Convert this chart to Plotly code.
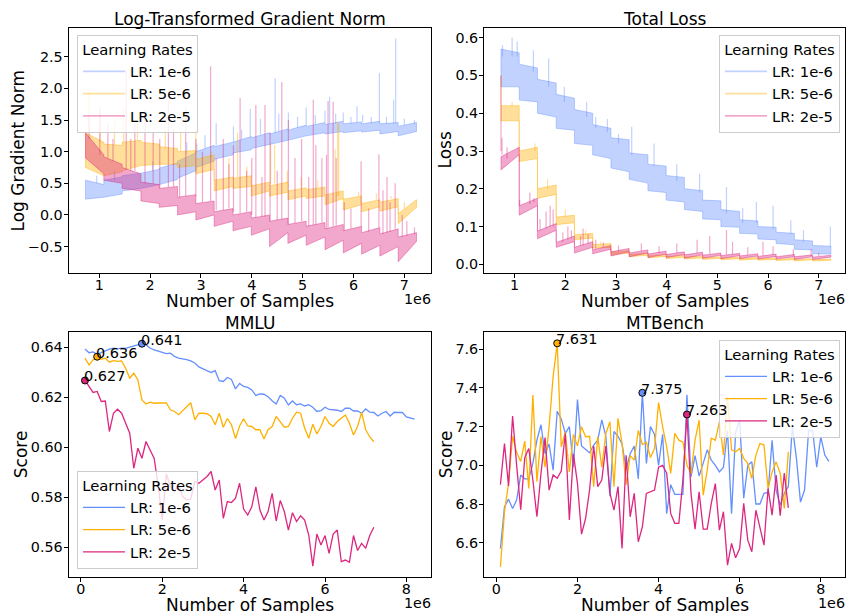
import plotly.graph_objects as go

W, H = 849, 613
FONT = "DejaVu Sans"
BLUE, ORANGE, PINK = "#648FFF", "#FFB000", "#DC267F"
BLUE_L, ORANGE_L, PINK_L = "rgba(100,143,255,0.4)", "rgba(255,176,0,0.4)", "rgba(220,38,127,0.4)"
LR_NAMES = ["LR: 1e-6", "LR: 5e-6", "LR: 2e-5"]

# ---------------- training curves (x in units of 1e6 samples) ----------------
epoch_edges = [0.73, 1.09, 1.45, 1.82, 2.18, 2.54, 2.9, 3.26, 3.63, 3.99,
               4.35, 4.71, 5.07, 5.44, 5.8, 6.16, 6.52, 6.88, 7.24]

# per epoch: [low at start, low at end, high at start, high at end]
gradnorm_1e6 = [[0.25, 0.28, 0.55, 0.48], [0.28, 0.33, 0.55, 0.6], [0.38, 0.42, 0.62, 0.66],
                [0.42, 0.48, 0.66, 0.72], [0.48, 0.56, 0.74, 0.82], [0.58, 0.7, 0.85, 0.98],
                [0.75, 0.85, 1.0, 1.1], [0.88, 0.95, 1.08, 1.15], [0.98, 1.03, 1.15, 1.24],
                [1.05, 1.12, 1.22, 1.3], [1.12, 1.18, 1.28, 1.36], [1.18, 1.25, 1.34, 1.42],
                [1.25, 1.3, 1.4, 1.46], [1.28, 1.32, 1.43, 1.48], [1.3, 1.33, 1.44, 1.47],
                [1.31, 1.34, 1.44, 1.48], [1.28, 1.32, 1.44, 1.46], [1.25, 1.32, 1.4, 1.46]]
gradnorm_5e6 = [[0.75, 0.62, 1.3, 1.15], [0.62, 0.68, 1.12, 1.1], [0.7, 0.78, 1.15, 1.18],
                [0.78, 0.8, 1.15, 1.12], [0.8, 0.8, 1.08, 1.05], [0.75, 0.78, 1.0, 1.02],
                [0.65, 0.72, 0.88, 0.95], [0.38, 0.45, 0.55, 0.6], [0.42, 0.45, 0.58, 0.62],
                [0.3, 0.38, 0.46, 0.52], [0.3, 0.36, 0.46, 0.52], [0.24, 0.3, 0.38, 0.43],
                [0.26, 0.3, 0.4, 0.44], [0.16, 0.26, 0.32, 0.38], [0.08, 0.16, 0.25, 0.3],
                [0.05, 0.13, 0.18, 0.24], [0.06, 0.13, 0.2, 0.26], [-0.14, 0.12, 0.02, 0.24]]
gradnorm_2e5 = [[0.9, 0.65, 1.3, 0.95], [0.55, 0.5, 0.92, 0.8], [0.42, 0.38, 0.75, 0.65],
                [0.22, 0.18, 0.52, 0.48], [0.12, 0.15, 0.42, 0.45], [0.0, 0.05, 0.28, 0.32],
                [-0.08, 0.0, 0.18, 0.22], [-0.18, -0.1, 0.05, 0.1], [-0.25, -0.18, 0.0, 0.05],
                [-0.32, -0.22, -0.05, 0.0], [-0.5, -0.28, -0.1, -0.05], [-0.45, -0.32, -0.15, -0.1],
                [-0.48, -0.35, -0.18, -0.12], [-0.55, -0.4, -0.22, -0.15], [-0.6, -0.45, -0.25, -0.18],
                [-0.62, -0.48, -0.28, -0.2], [-0.65, -0.5, -0.3, -0.22], [-0.74, -0.42, -0.35, -0.28]]

# spikes: (x, base, peak)
gradnorm_1e6_spikes = [(0.95, 0.5, 0.62), (1.3, 0.55, 0.7), (2.05, 0.7, 0.85), (2.72, 0.95, 1.15),
                       (2.92, 1.0, 1.13), (3.08, 1.05, 1.26), (3.3, 1.1, 1.45), (3.64, 1.15, 1.4),
                       (3.8, 1.2, 1.35), (3.97, 1.24, 1.68), (4.17, 1.27, 1.52), (4.46, 1.3, 2.16),
                       (4.53, 1.32, 1.6), (4.72, 1.36, 1.62), (4.9, 1.38, 1.55), (5.07, 1.42, 1.7),
                       (5.25, 1.43, 1.58), (5.44, 1.46, 1.65), (5.53, 1.44, 1.87), (5.65, 1.45, 1.6),
                       (5.8, 1.48, 1.62), (5.95, 1.45, 1.55), (6.07, 1.46, 1.72), (6.18, 1.47, 1.58),
                       (6.35, 1.45, 1.55), (6.51, 1.47, 2.24), (6.65, 1.44, 1.55), (6.79, 1.45, 1.82),
                       (6.83, 1.45, 2.79), (7.0, 1.42, 1.52), (7.2, 1.44, 1.5)]
gradnorm_5e6_spikes = [(0.8, 1.3, 2.0), (1.02, 1.15, 1.6), (1.3, 1.1, 1.55), (1.48, 1.15, 1.7),
                       (1.75, 1.18, 1.45), (2.3, 1.05, 1.4), (2.6, 1.0, 1.3), (2.9, 0.95, 1.35),
                       (3.2, 0.9, 1.0), (3.55, 0.58, 0.9), (3.72, 0.6, 1.3), (3.9, 0.6, 0.76),
                       (4.37, 0.5, 1.12), (4.45, 0.5, 1.1), (4.7, 0.5, 0.7), (4.97, 0.43, 0.6),
                       (5.3, 0.43, 0.55), (5.64, 0.36, 1.04), (5.69, 0.3, 1.47), (5.71, 0.3, 1.45),
                       (6.1, 0.3, 0.36), (6.45, 0.24, 0.34), (6.74, 0.26, 0.3), (7.0, 0.1, 0.2)]
gradnorm_2e5_spikes = [(0.8, 1.2, 1.55), (1.01, 0.95, 1.71), (1.17, 0.9, 1.45), (1.27, 0.85, 1.2),
                       (1.53, 0.72, 2.3), (1.62, 0.7, 1.2), (1.7, 0.7, 1.45), (1.9, 0.5, 1.65),
                       (2.06, 0.5, 1.3), (2.19, 0.42, 1.2), (2.36, 0.44, 1.8), (2.46, 0.45, 1.35),
                       (2.58, 0.28, 0.8), (2.7, 0.3, 1.7), (2.9, 0.3, 1.2), (3.03, 0.2, 1.0),
                       (3.19, 0.22, 2.35), (3.3, 0.08, 0.9), (3.44, 0.08, 1.2), (3.55, 0.1, 0.8),
                       (3.64, 0.05, 1.1), (3.77, 0.03, 1.85), (3.9, 0.05, 0.7), (4.0, 0.0, 0.9),
                       (4.08, -0.05, 1.74), (4.2, -0.03, 0.6), (4.26, -0.03, 1.74), (4.36, -0.1, 1.3),
                       (4.5, -0.08, 0.7), (4.59, -0.07, 2.1), (4.72, -0.15, 1.5), (4.85, -0.13, 0.9),
                       (4.98, -0.1, 1.2), (5.12, -0.18, 0.6), (5.21, -0.16, 1.82), (5.26, -0.15, 1.1),
                       (5.38, -0.12, 0.9), (5.47, -0.22, 0.95), (5.5, -0.2, 1.8), (5.6, -0.18, 1.79),
                       (5.66, -0.17, 0.9), (5.82, -0.25, 0.2), (5.95, -0.22, 0.1), (6.15, -0.18, 0.85),
                       (6.3, -0.26, 0.1), (6.5, -0.2, 0.96), (6.58, -0.3, 0.39), (6.66, -0.28, 0.6),
                       (6.72, -0.27, 0.2), (6.82, -0.22, 0.5), (6.96, -0.35, 0.0), (7.05, -0.33, -0.1),
                       (7.2, -0.3, -0.2)]

loss_1e6 = [[0.47, 0.47, 0.57, 0.56], [0.435, 0.43, 0.53, 0.52], [0.4, 0.39, 0.49, 0.48],
            [0.36, 0.355, 0.45, 0.44], [0.32, 0.315, 0.41, 0.4], [0.29, 0.28, 0.37, 0.36],
            [0.255, 0.245, 0.335, 0.33], [0.225, 0.215, 0.295, 0.29], [0.195, 0.19, 0.265, 0.26],
            [0.17, 0.165, 0.235, 0.23], [0.145, 0.14, 0.2, 0.195], [0.12, 0.118, 0.17, 0.168],
            [0.1, 0.098, 0.145, 0.14], [0.082, 0.08, 0.118, 0.115], [0.067, 0.065, 0.1, 0.098],
            [0.055, 0.052, 0.085, 0.082], [0.04, 0.038, 0.065, 0.062], [0.028, 0.027, 0.05, 0.048]]
loss_5e6 = [[0.38, 0.38, 0.42, 0.42], [0.272, 0.28, 0.3, 0.31], [0.175, 0.185, 0.2, 0.21],
            [0.105, 0.11, 0.125, 0.13], [0.065, 0.07, 0.078, 0.082], [0.043, 0.045, 0.052, 0.055],
            [0.025, 0.03, 0.032, 0.036], [0.02, 0.024, 0.026, 0.03], [0.017, 0.021, 0.022, 0.026],
            [0.015, 0.019, 0.02, 0.024], [0.014, 0.017, 0.019, 0.022], [0.013, 0.016, 0.017, 0.02],
            [0.012, 0.015, 0.016, 0.019], [0.011, 0.014, 0.015, 0.018], [0.011, 0.013, 0.014, 0.017],
            [0.01, 0.012, 0.013, 0.016], [0.009, 0.012, 0.013, 0.015], [0.009, 0.011, 0.012, 0.014]]
loss_2e5 = [[0.25, 0.29, 0.285, 0.31], [0.13, 0.155, 0.155, 0.175], [0.068, 0.09, 0.088, 0.108],
            [0.045, 0.06, 0.058, 0.075], [0.03, 0.045, 0.045, 0.06], [0.028, 0.04, 0.038, 0.05],
            [0.022, 0.033, 0.033, 0.042], [0.02, 0.03, 0.03, 0.038], [0.018, 0.027, 0.027, 0.035],
            [0.018, 0.026, 0.026, 0.033], [0.016, 0.025, 0.025, 0.032], [0.016, 0.024, 0.024, 0.03],
            [0.015, 0.023, 0.023, 0.029], [0.015, 0.022, 0.022, 0.028], [0.014, 0.021, 0.021, 0.027],
            [0.014, 0.02, 0.02, 0.026], [0.013, 0.02, 0.02, 0.025], [0.013, 0.019, 0.019, 0.024]]

loss_1e6_spikes = [(0.76, 0.55, 0.58), (0.95, 0.55, 0.6), (1.05, 0.55, 0.59), (1.37, 0.51, 0.567),
                   (1.67, 0.47, 0.545), (1.98, 0.43, 0.47), (2.42, 0.39, 0.43), (2.6, 0.36, 0.39),
                   (2.83, 0.35, 0.385), (3.05, 0.32, 0.345), (3.31, 0.29, 0.364), (3.75, 0.26, 0.32),
                   (4.2, 0.22, 0.265), (4.65, 0.19, 0.24), (5.18, 0.135, 0.205), (5.5, 0.11, 0.15),
                   (5.77, 0.11, 0.165), (6.1, 0.095, 0.155), (6.45, 0.08, 0.117), (6.7, 0.06, 0.09),
                   (7.23, 0.045, 0.1)]
loss_5e6_spikes = [(0.73, 0.42, 0.5), (0.95, 0.42, 0.43), (1.4, 0.3, 0.32), (1.65, 0.2, 0.225),
                   (2.0, 0.125, 0.145), (2.4, 0.078, 0.09), (2.7, 0.052, 0.06)]
loss_2e5_spikes = [(0.73, 0.3, 0.5), (0.75, 0.29, 0.335), (0.85, 0.28, 0.31), (1.1, 0.155, 0.17),
                   (1.3, 0.16, 0.19), (1.38, 0.165, 0.175), (1.5, 0.09, 0.12), (1.62, 0.095, 0.14),
                   (1.7, 0.1, 0.155), (1.76, 0.1, 0.145), (1.95, 0.06, 0.085), (2.05, 0.065, 0.1),
                   (2.12, 0.068, 0.09), (2.3, 0.05, 0.075), (2.35, 0.05, 0.095), (2.45, 0.055, 0.08),
                   (2.6, 0.04, 0.065), (2.75, 0.045, 0.058), (3.05, 0.035, 0.05), (3.5, 0.035, 0.055),
                   (3.85, 0.03, 0.048), (4.2, 0.03, 0.055), (4.6, 0.03, 0.065), (4.85, 0.028, 0.075),
                   (5.18, 0.025, 0.091), (5.3, 0.026, 0.06), (5.6, 0.025, 0.045), (5.9, 0.024, 0.06),
                   (6.1, 0.025, 0.048), (6.5, 0.023, 0.04), (6.85, 0.022, 0.04), (7.0, 0.022, 0.03)]

# ---------------- evaluation curves ----------------
checkpoints = [0.1, 0.2, 0.3, 0.4, 0.5, 0.6, 0.7, 0.8, 0.9, 1.0,
               1.1, 1.2, 1.3, 1.4, 1.5, 1.6, 1.7, 1.8, 1.9, 2.0,
               2.1, 2.2, 2.3, 2.4, 2.5, 2.6, 2.7, 2.8, 2.9, 3.0,
               3.1, 3.2, 3.3, 3.4, 3.5, 3.6, 3.7, 3.8, 3.9, 4.0,
               4.1, 4.2, 4.3, 4.4, 4.5, 4.6, 4.7, 4.8, 4.9, 5.0,
               5.1, 5.2, 5.3, 5.4, 5.5, 5.6, 5.7, 5.8, 5.9, 6.0,
               6.1, 6.2, 6.3, 6.4, 6.5, 6.6, 6.7, 6.8, 6.9, 7.0,
               7.1, 7.2, 7.3, 7.4, 7.5, 7.6, 7.7, 7.8, 7.9, 8.0,
               8.1, 8.2]

mmlu_1e6 = [0.6393, 0.6378, 0.6381, 0.6372, 0.6378, 0.6386, 0.6392, 0.6396, 0.6393, 0.6396,
            0.6395, 0.6400, 0.6405, 0.6411, 0.6414, 0.6409, 0.6397, 0.6389, 0.6383, 0.6378,
            0.6374, 0.6376, 0.6363, 0.6356, 0.6354, 0.6350, 0.6345, 0.6337, 0.6321, 0.6313,
            0.6307, 0.6299, 0.6306, 0.6266, 0.6263, 0.6279, 0.6271, 0.6233, 0.6255, 0.6243,
            0.6239, 0.6229, 0.6207, 0.6213, 0.6212, 0.6202, 0.6186, 0.6173, 0.6207, 0.6196,
            0.6169, 0.6185, 0.6170, 0.6173, 0.6165, 0.6170, 0.6160, 0.6143, 0.6146, 0.6160,
            0.6151, 0.6150, 0.6148, 0.6143, 0.6156, 0.6156, 0.6145, 0.6145, 0.6136, 0.6153,
            0.6140, 0.6139, 0.6125, 0.6136, 0.6143, 0.6125, 0.6140, 0.6139, 0.6139, 0.6121,
            0.6116, 0.6112]
mmlu_5e6 = [0.6356, 0.6329, 0.6349, 0.6362, 0.6352, 0.6356, 0.6340, 0.6346, 0.6343, 0.6345,
            0.6316, 0.6276, 0.6296, 0.6269, 0.6189, 0.6173, 0.6180, 0.6176, 0.6177, 0.6177,
            0.6177, 0.6150, 0.6143, 0.6130, 0.6145, 0.6163, 0.6178, 0.6110, 0.6136, 0.6136,
            0.6134, 0.6123, 0.6090, 0.6136, 0.6080, 0.6115, 0.6090, 0.6035, 0.6085, 0.6114,
            0.6085, 0.6083, 0.6070, 0.6070, 0.6033, 0.6070, 0.6083, 0.6123, 0.6103, 0.6080,
            0.6083, 0.6116, 0.6140, 0.6136, 0.6076, 0.6036, 0.6092, 0.6053, 0.6083, 0.6123,
            0.6096, 0.6083, 0.6103, 0.6116, 0.6129, 0.6096, 0.6049, 0.6083, 0.6139, 0.6070,
            0.6041, 0.6022]
mmlu_2e5 = [0.6267, 0.6245, 0.6219, 0.6223, 0.6183, 0.6185, 0.6063, 0.6136, 0.6152, 0.6136,
            0.6096, 0.6056, 0.5916, 0.5996, 0.5956, 0.6023, 0.5989, 0.5956, 0.5845, 0.5709,
            0.5893, 0.5843, 0.5823, 0.5850, 0.5803, 0.5790, 0.5793, 0.5863, 0.5856, 0.5869,
            0.5883, 0.5903, 0.5829, 0.5869, 0.5716, 0.5783, 0.5779, 0.5796, 0.5856, 0.5753,
            0.5729, 0.5762, 0.5842, 0.5749, 0.5709, 0.5743, 0.5816, 0.5705, 0.5787, 0.5743,
            0.5669, 0.5738, 0.5703, 0.5726, 0.5709, 0.5649, 0.5525, 0.5653, 0.5609, 0.5647,
            0.5576, 0.5653, 0.5669, 0.5543, 0.5549, 0.5540, 0.5647, 0.5587, 0.5616, 0.5596,
            0.5647, 0.5680]

mtbench_1e6 = [6.57, 6.785, 6.825, 6.777, 6.82, 6.95, 6.93, 6.93, 7.01, 7.13,
               7.21, 7.06, 7.11, 6.975, 7.28, 7.24, 7.165, 7.2, 6.99, 7.34,
               7.1, 7.08, 7.065, 7.105, 7.13, 7.235, 7.15, 6.84, 7.175, 7.15,
               7.11, 6.98, 7.06, 7.1, 6.93, 7.375, 7.01, 7.2, 7.16, 7.0,
               7.16, 6.75, 6.9, 6.85, 6.85, 6.85, 7.365, 6.94, 7.05, 6.945,
               7.01, 7.08, 7.027, 7.0, 6.966, 6.99, 7.18, 6.75, 7.17, 7.235,
               6.83, 7.0, 7.018, 6.8, 6.8, 6.855, 6.86, 7.13, 6.87, 6.795,
               6.855, 6.89, 7.2, 7.036, 6.81, 6.872, 7.18, 7.18, 6.99, 7.148,
               7.053, 7.02]
mtbench_5e6 = [6.475, 6.76, 6.906, 7.15, 7.067, 7.02, 7.125, 6.88, 7.363, 6.915,
               7.148, 6.99, 7.2, 7.46, 7.631, 7.096, 7.17, 6.966, 7.16, 7.1,
               7.2, 7.148, 7.15, 6.89, 7.148, 6.99, 7.165, 7.225, 6.89, 7.243,
               7.113, 6.9, 7.05, 7.027, 7.18, 7.108, 7.12, 7.04, 7.087, 7.324,
               7.2, 7.096, 6.958, 7.165, 7.13, 7.12, 7.0, 6.958, 7.13, 7.234,
               6.846, 6.975, 7.14, 7.13, 7.225, 7.053, 7.355, 7.08, 7.07, 7.087,
               7.036, 7.01, 6.932, 7.053, 7.113, 7.105, 6.88, 6.966, 7.018, 6.958,
               6.777, 7.07]
mtbench_2e5 = [6.9, 7.113, 6.893, 7.255, 7.0, 6.771, 7.04, 7.087, 6.924, 6.734,
               6.958, 7.144, 6.872, 6.95, 6.933, 6.97, 7.165, 6.717, 7.06, 6.907,
               6.644, 6.725, 6.875, 7.1, 6.89, 6.924, 7.1, 6.858, 6.768, 6.89,
               6.57, 7.052, 6.734, 6.855, 6.605, 6.682, 6.855, 6.863, 6.872, 6.99,
               7.0, 6.96, 6.75, 6.7, 6.7, 6.924, 7.263, 6.855, 6.67, 6.863,
               6.67, 6.67, 6.803, 6.906, 6.665, 6.76, 6.484, 6.596, 6.522, 6.57,
               6.803, 6.613, 6.553, 6.768, 6.673, 6.587, 6.88, 6.742, 6.95, 6.74,
               6.96, 6.78]

# ---------------- helpers ----------------
def band_polygon(edges, bands):
    xt, yt, xb, yb = [], [], [], []
    for i, (lo_s, lo_e, hi_s, hi_e) in enumerate(bands):
        xt += [edges[i], edges[i + 1]]
        yt += [hi_s, hi_e]
        xb += [edges[i], edges[i + 1]]
        yb += [lo_s, lo_e]
    return xt + xb[::-1] + [xt[0]], yt + yb[::-1] + [yt[0]]


def spike_lines(spikes):
    xs, ys = [], []
    for sx, base, top in spikes:
        xs += [sx, sx, None]
        ys += [base, top, None]
    return xs, ys


fig = go.Figure()

def add_training(xa, ya, bands_list, spikes_list, legend_name):
    for bands, spikes, col in zip(bands_list, spikes_list, [BLUE_L, ORANGE_L, PINK_L]):
        px, py = band_polygon(epoch_edges, bands)
        fig.add_trace(go.Scatter(x=px, y=py, mode="lines", fill="toself", fillcolor=col,
                                 line=dict(width=1, color=col), xaxis=xa, yaxis=ya,
                                 showlegend=False, hoverinfo="skip"))
        sx, sy = spike_lines(spikes)
        fig.add_trace(go.Scatter(x=sx, y=sy, mode="lines", line=dict(width=1.2, color=col),
                                 xaxis=xa, yaxis=ya, showlegend=False, hoverinfo="skip"))
    for name, col in zip(LR_NAMES, [BLUE_L, ORANGE_L, PINK_L]):
        fig.add_trace(go.Scatter(x=[None], y=[None], mode="lines", name=name,
                                 line=dict(width=1.6, color=col), xaxis=xa, yaxis=ya,
                                 legend=legend_name, showlegend=True))


add_training("x", "y", [gradnorm_1e6, gradnorm_5e6, gradnorm_2e5],
             [gradnorm_1e6_spikes, gradnorm_5e6_spikes, gradnorm_2e5_spikes], "legend")
add_training("x2", "y2", [loss_1e6, loss_5e6, loss_2e5],
             [loss_1e6_spikes, loss_5e6_spikes, loss_2e5_spikes], "legend2")

annotations = []

def add_eval(xa, ya, series, legend_name, fmt):
    lens = [82, 72, 72]
    for name, vals, col, n in zip(LR_NAMES, series, [BLUE, ORANGE, PINK], lens):
        xs = checkpoints[:n]
        fig.add_trace(go.Scatter(x=xs, y=vals, mode="lines", name=name,
                                 line=dict(width=1.3, color=col), xaxis=xa, yaxis=ya,
                                 legend=legend_name, showlegend=True, hoverinfo="skip"))
    for vals, col, n in zip(series, [BLUE, ORANGE, PINK], lens):
        xs = checkpoints[:n]
        i = max(range(len(vals)), key=lambda k: vals[k])
        fig.add_trace(go.Scatter(x=[xs[i]], y=[vals[i]], mode="markers",
                                 marker=dict(size=7, color=col, line=dict(width=1, color="black")),
                                 xaxis=xa, yaxis=ya, showlegend=False, hoverinfo="skip"))
        annotations.append(dict(x=xs[i], y=vals[i], xref=xa, yref=ya, text=fmt.format(vals[i]),
                                showarrow=False, xanchor="left", yanchor="bottom",
                                xshift=-3, yshift=-6,
                                font=dict(size=14.5, family=FONT, color="black")))


add_eval("x3", "y3", [mmlu_1e6, mmlu_5e6, mmlu_2e5], "legend3", "{:.3f}")
add_eval("x4", "y4", [mtbench_1e6, mtbench_5e6, mtbench_2e5], "legend4", "{:.3f}")

# ---------------- layout ----------------
XL = [68.5 / W, 431 / W]
XR = [484 / W, 845.3 / W]
YT = [1 - 272.7 / H, 1 - 27.7 / H]
YB = [1 - 577.3 / H, 1 - 331.7 / H]

axis_common = dict(showline=True, mirror=True, linecolor="black", linewidth=1,
                   ticks="outside", ticklen=4, tickwidth=1, tickcolor="black",
                   showgrid=False, zeroline=False,
                   tickfont=dict(size=14.3, family=FONT, color="black"))

def ax(**kw):
    d = dict(axis_common)
    d.update(kw)
    return d

def xax(**kw):
    return ax(ticklabelstandoff=-5, **kw)

def yax(**kw):
    return ax(ticklabelstandoff=-2, **kw)

legend_common = dict(bgcolor="rgba(255,255,255,0.8)", bordercolor="#cccccc", borderwidth=1,
                     font=dict(size=14.8, family=FONT, color="black"),
                     title=dict(text="Learning Rates", side="top center",
                                font=dict(size=14.8, family=FONT, color="black")),
                     itemwidth=42, tracegroupgap=0)

def leg(**kw):
    d = dict(legend_common)
    d.update(kw)
    return d

def txt(x, y, s, size=17, angle=0, xanchor="center", yanchor="middle"):
    return dict(x=x / W, y=1 - y / H, xref="paper", yref="paper", text=s, showarrow=False,
                textangle=angle, xanchor=xanchor, yanchor=yanchor,
                font=dict(size=size, family=FONT, color="black"))

annotations += [
    txt(249.8, 18.5, "Log-Transformed Gradient Norm"),
    txt(664.6, 18.5, "Total Loss"),
    txt(249.8, 322.7, "MMLU"),
    txt(664.6, 322.7, "MTBench"),
    txt(249.8, 300.5, "Number of Samples"),
    txt(664.6, 300.5, "Number of Samples"),
    txt(249.8, 605, "Number of Samples"),
    txt(664.6, 605, "Number of Samples"),
    txt(18.3, 150.2, "Log Gradient Norm", angle=-90),
    txt(445.3, 150.2, "Loss", angle=-90),
    txt(20.7, 454.5, "Score", angle=-90),
    txt(445.7, 454.5, "Score", angle=-90),
    txt(433, 299, "1e6", size=14.3, xanchor="right"),
    txt(847, 299, "1e6", size=14.3, xanchor="right"),
    txt(433, 603, "1e6", size=14.3, xanchor="right"),
    txt(847, 603, "1e6", size=14.3, xanchor="right"),
]

fig.update_layout(
    width=W, height=H, margin=dict(l=0, r=0, t=0, b=0),
    paper_bgcolor="white", plot_bgcolor="white",
    font=dict(family=FONT, color="black"),
    xaxis=xax(domain=XL, anchor="y", range=[0.395, 7.525], tickvals=[1, 2, 3, 4, 5, 6, 7]),
    yaxis=yax(domain=YT, anchor="x", range=[-0.913, 2.96],
              tickvals=[-0.5, 0, 0.5, 1, 1.5, 2, 2.5], tickformat=".1f"),
    xaxis2=xax(domain=XR, anchor="y2", range=[0.395, 7.525], tickvals=[1, 2, 3, 4, 5, 6, 7]),
    yaxis2=yax(domain=YT, anchor="x2", range=[-0.0222, 0.6265],
               tickvals=[0, 0.1, 0.2, 0.3, 0.4, 0.5, 0.6], tickformat=".1f"),
    xaxis3=xax(domain=XL, anchor="y3", range=[-0.305, 8.605], tickvals=[0, 2, 4, 6, 8]),
    yaxis3=yax(domain=YB, anchor="x3", range=[0.548, 0.6462],
               tickvals=[0.56, 0.58, 0.60, 0.62, 0.64], tickformat=".2f"),
    xaxis4=xax(domain=XR, anchor="y4", range=[-0.305, 8.605], tickvals=[0, 2, 4, 6, 8]),
    yaxis4=yax(domain=YB, anchor="x4", range=[6.421, 7.691],
               tickvals=[6.6, 6.8, 7.0, 7.2, 7.4, 7.6], tickformat=".1f"),
    legend=leg(x=77 / W, y=1 - 35 / H, xanchor="left", yanchor="top"),
    legend2=leg(x=840 / W, y=1 - 35 / H, xanchor="right", yanchor="top"),
    legend3=leg(x=77 / W, y=1 - 569 / H, xanchor="left", yanchor="bottom"),
    legend4=leg(x=840 / W, y=1 - 340 / H, xanchor="right", yanchor="top"),
    annotations=annotations,
    showlegend=True,
)

fig.write_html("out.html", config={"displayModeBar": False})

# remove the browser's default page margin so the figure sits at the window origin
with open("out.html", "r", encoding="utf-8") as f:
    page = f.read()
page = page.replace("<head>", "<head><style>html,body{margin:0;padding:0;overflow:hidden;}</style>", 1)
with open("out.html", "w", encoding="utf-8") as f:
    f.write(page)
